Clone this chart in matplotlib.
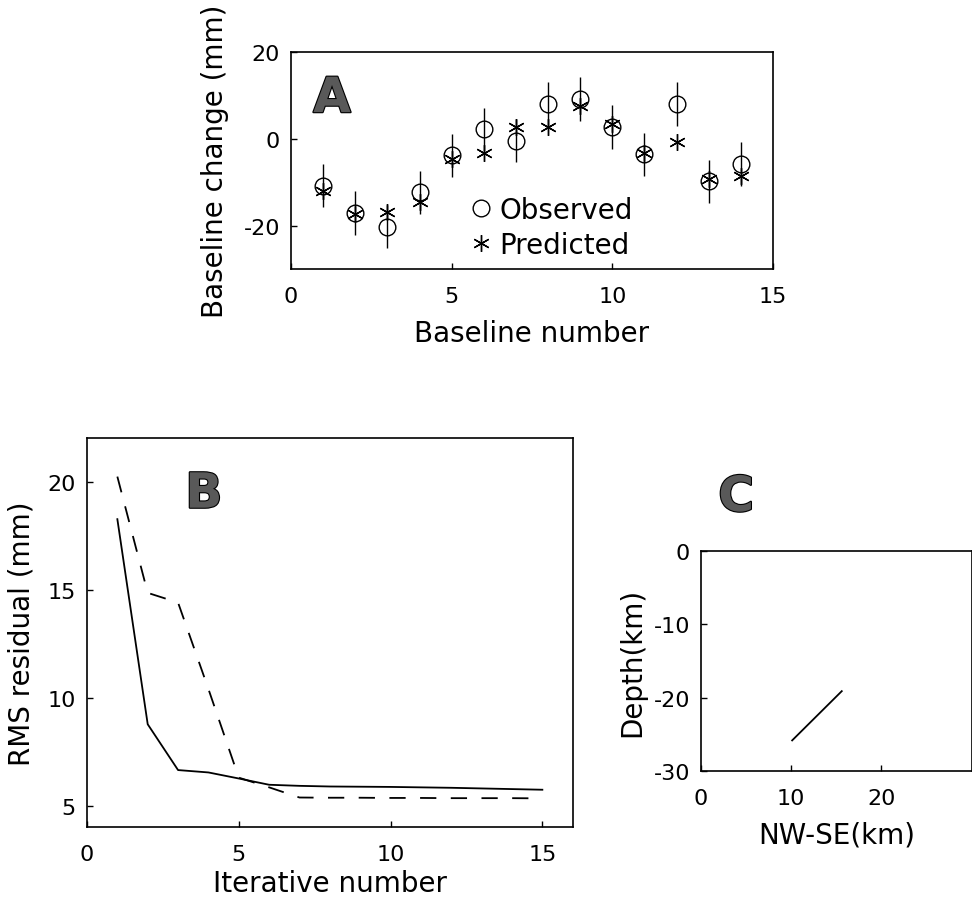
import matplotlib
matplotlib.use("Agg")
import matplotlib.pyplot as plt
import matplotlib.patheffects as pe

# panel A: baseline changes
baseline_no = [1, 2, 3, 4, 5, 6, 7, 8, 9, 10, 11, 12, 13, 14]
observed = [-10.8, -17.1, -20.2, -12.3, -3.8, 2.2, -0.4, 8.1, 9.2, 2.8, -3.5, 8.1, -9.8, -5.8]
obs_err = [5.0, 5.0, 5.0, 5.0, 5.0, 5.0, 5.0, 5.0, 5.0, 5.0, 5.0, 5.0, 5.0, 5.0]
predicted = [-11.9, -17.2, -16.9, -14.5, -4.6, -3.2, 2.8, 2.8, 7.7, 3.5, -3.2, -0.8, -9.2, -8.5]

# panel B: rms residual vs iteration
iters = [1, 2, 3, 4, 5, 6, 7, 8, 9, 10, 11, 12, 13, 14, 15]
rms_solid = [18.26, 8.77, 6.65, 6.54, 6.26, 5.97, 5.92, 5.89, 5.88, 5.87, 5.85, 5.83, 5.80, 5.77, 5.74]
rms_dashed = [20.23, 14.85, 14.4, 10.4, 6.3, 5.85, 5.38, 5.37, 5.37, 5.36, 5.36, 5.35, 5.35, 5.35, 5.34]

# panel C: fault trace in cross-section
fault_x = [10.1, 15.6]
fault_depth = [-25.8, -19.1]

plt.rcParams['font.family'] = ['DejaVu Sans']
plt.rcParams['axes.linewidth'] = 1.2
plt.rcParams['axes.unicode_minus'] = False

fig = plt.figure(figsize=(9.72, 9.04), dpi=100)

def style(ax):
    ax.tick_params(direction='in', length=4, width=1, labelsize=16, pad=8)
    ax.tick_params(axis='x', pad=12)

def panel_letter(ax, x, y, s, transform=None):
    ax.text(x, y, s, fontsize=35, fontweight='bold', color='0.35',
            ha='left', va='baseline', transform=transform or ax.transData,
            clip_on=False,
            path_effects=[pe.Stroke(linewidth=1.6, foreground='black'), pe.Normal()])

# ---- A ----
axA = fig.add_axes([0.2994, 0.7013, 0.4959, 0.2397])
axA.errorbar(baseline_no, observed, yerr=obs_err, fmt='none', ecolor='black', elinewidth=1.0)
axA.plot(baseline_no, observed, 'o', ls='none', mfc='none', mec='black', ms=12, mew=1.0, label='Observed')
axA.plot(baseline_no, predicted, marker=(6, 2, 0), ls='none', color='black', ms=12, mew=1.0, label='Predicted')
axA.set_xlim(0, 15)
axA.set_ylim(-30, 20)
axA.set_xticks([0, 5, 10, 15])
axA.set_yticks([-20, 0, 20])
style(axA)
axA.set_xlabel('Baseline number', fontsize=20, va='baseline')
axA.xaxis.set_label_coords(0.5, -0.332)
axA.set_ylabel('Baseline change (mm)', fontsize=20, va='baseline', rotation_mode='anchor')
axA.yaxis.set_label_coords(-0.141, 0.5)
panel_letter(axA, 0.69, 6.2, 'A')
axA.legend(loc='upper left', bbox_to_anchor=(0.369, 0.339), frameon=False, fontsize=20,
           handlelength=0.9, handletextpad=0.2, borderpad=0, borderaxespad=0,
           labelspacing=0.25)

# ---- B ----
axB = fig.add_axes([0.0895, 0.0837, 0.4997, 0.4303])
axB.plot(iters, rms_solid, color='black', lw=1.3)
axB.plot(iters, rms_dashed, color='black', lw=1.3, ls=(0, (9, 8)))
axB.set_xlim(0, 16)
axB.set_ylim(4, 22)
axB.set_xticks([0, 5, 10, 15])
axB.set_yticks([5, 10, 15, 20])
style(axB)
axB.set_xlabel('Iterative number', fontsize=20, va='baseline')
axB.xaxis.set_label_coords(0.5, -0.164)
axB.set_ylabel('RMS residual (mm)', fontsize=20, va='baseline', rotation_mode='anchor')
axB.yaxis.set_label_coords(-0.118, 0.5)
panel_letter(axB, 3.24, 18.79, 'B')

# ---- C ----
axC = fig.add_axes([0.7212, 0.1457, 0.2785, 0.244])
axC.plot(fault_x, fault_depth, color='black', lw=1.3)
axC.set_xlim(0, 30)
axC.set_ylim(-30, 0)
axC.set_xticks([0, 10, 20])
axC.set_yticks([-30, -20, -10, 0])
style(axC)
axC.set_xlabel('NW-SE(km)', fontsize=20, va='baseline')
axC.xaxis.set_label_coords(0.5, -0.322)
axC.set_ylabel('Depth(km)', fontsize=20, va='baseline', rotation_mode='anchor')
axC.yaxis.set_label_coords(-0.223, 0.5)
panel_letter(axC, 0.064, 1.18, 'C', transform=axC.transAxes)

fig.savefig('out.png', dpi=100)
